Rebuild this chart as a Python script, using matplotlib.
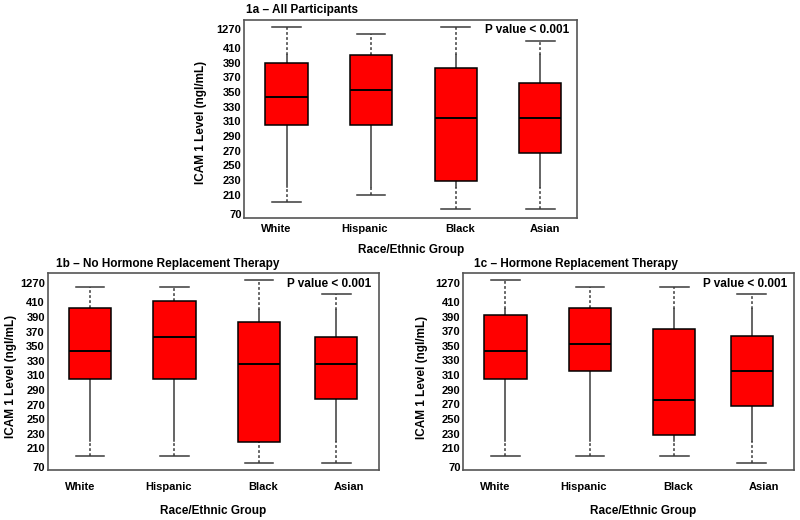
import numpy as np
import matplotlib
matplotlib.use("Agg")
import matplotlib.pyplot as plt

plt.rcParams['font.family'] = ['Liberation Sans', 'DejaVu Sans']
plt.rcParams['font.weight'] = 'bold'

# ---------------- data ----------------
groups = ["White", "Hispanic", "Black", "Asian"]
ytick_values = [70, 210, 230, 250, 270, 290, 310, 330, 350, 370, 390, 410, 1270]

titles = ["1a \u2013 All Participants",
          "1b \u2013 No Hormone Replacement Therapy",
          "1c \u2013 Hormone Replacement Therapy"]
p_text = "P value < 0.001"

# per panel: whisker low, Q1, median, Q3, whisker high (ng/mL)
a_low = [154, 205, 102, 102]
a_q1 = [305, 305, 228, 267]
a_med = [343, 352, 314, 314]
a_q3 = [390, 400, 382, 362]
a_high = [1356, 1038, 1369, 734]

b_low = [153, 153, 104, 104]
b_q1 = [305, 305, 219, 277]
b_med = [344, 363, 325, 325]
b_q3 = [402, 456, 383, 363]
b_high = [1091, 1091, 1422, 774]

c_low = [151, 151, 151, 100]
c_q1 = [305, 315, 228, 267]
c_med = [343, 353, 276, 315]
c_q3 = [392, 402, 373, 363]
c_high = [1409, 1078, 1078, 759]

# ---------------- broken-axis scale ----------------
XP = [0.0, 70.0, 210.0, 410.0, 1270.0, 2500.0]
FP = [-0.65, 0.0, 1.3, 11.3, 12.6, 12.6 + 1230.0 / 661.5]


def fwd(v):
    return np.interp(v, XP, FP)


def inv(s):
    return np.interp(s, FP, XP)


HI_BRK = 400
LO_BRK = 220
DASH = (0, (1.8, 1.5))

fig = plt.figure(figsize=(8, 5.2), dpi=100)

panels = [
    dict(rect=[0.3054, 0.5802, 0.4163, 0.3819], data=(a_low, a_q1, a_med, a_q3, a_high),
         pos=[0, 1, 2, 3], xlim=(-0.50, 3.44), slim=(-0.31, 13.22),
         tpos=(0.005, 1.049), ppos=(0.976, 0.948), ylab=(-0.113, 0.482), xlab=(0.5, -0.127),
         xpad=4.0),
    dict(rect=[0.0596, 0.0962, 0.4141, 0.3783], data=(b_low, b_q1, b_med, b_q3, b_high),
         pos=[0, 1, 2, 2.915], xlim=(-0.50, 3.42), slim=(-0.18, 13.29),
         tpos=(0.025, 1.046), ppos=(0.978, 0.944), ylab=(-0.094, 0.474), xlab=(0.5, -0.178),
         xpad=9.0),
    dict(rect=[0.5791, 0.0967, 0.41375, 0.3777], data=(c_low, c_q1, c_med, c_q3, c_high),
         pos=[0, 1, 2, 2.915], xlim=(-0.50, 3.42), slim=(-0.18, 13.27),
         tpos=(0.032, 1.046), ppos=(0.979, 0.9455), ylab=(-0.106, 0.469), xlab=(0.542, -0.18),
         xpad=9.0),
]

label_offsets = [-0.12, 0.925, 2.05, 3.06]
wcol = "#3a3a3a"

for i, p in enumerate(panels):
    ax = fig.add_axes(p["rect"])
    ax.set_yscale("function", functions=(fwd, inv))
    low, q1, med, q3, high = p["data"]
    stats = []
    for k in range(len(groups)):
        stats.append(dict(med=med[k], q1=q1[k], q3=q3[k], whislo=low[k], whishi=high[k],
                          fliers=[], label=groups[k]))
    ax.bxp(stats, positions=p["pos"], widths=0.5, showfliers=False, patch_artist=True,
           boxprops=dict(facecolor="#ff0000", edgecolor="black", linewidth=1.1),
           medianprops=dict(color="black", linewidth=1.4),
           whiskerprops=dict(linestyle="none"),
           capprops=dict(color=wcol, linewidth=1.1), capwidths=0.34, zorder=3)
    # whiskers: solid inside the continuous part, dashed across the axis breaks
    for k, x in enumerate(p["pos"]):
        top_solid = min(high[k], HI_BRK)
        if top_solid > q3[k]:
            ax.plot([x, x], [q3[k], top_solid], color=wcol, lw=1.1, zorder=2)
        if high[k] > HI_BRK:
            ax.plot([x, x], [max(q3[k], HI_BRK), high[k]], color=wcol, lw=1.1,
                    linestyle=DASH, zorder=2)
        bot_solid = max(low[k], LO_BRK)
        if bot_solid < q1[k]:
            ax.plot([x, x], [bot_solid, q1[k]], color=wcol, lw=1.1, zorder=2)
        if low[k] < LO_BRK:
            ax.plot([x, x], [low[k], min(q1[k], LO_BRK)], color=wcol, lw=1.1,
                    linestyle=DASH, zorder=2)

    ax.set_xlim(*p["xlim"])
    ax.set_ylim(inv(p["slim"][0]), inv(p["slim"][1]))
    ax.set_yticks(ytick_values)
    ax.set_yticklabels([str(v) for v in ytick_values])
    ax.yaxis.set_minor_locator(matplotlib.ticker.NullLocator())
    ax.set_xticks(label_offsets)
    ax.set_xticklabels(groups)
    ax.tick_params(axis="both", length=0, labelsize=8, colors="black")
    ax.tick_params(axis="y", pad=2)
    ax.tick_params(axis="x", pad=p["xpad"])
    for lab in ax.get_xticklabels() + ax.get_yticklabels():
        lab.set_fontweight("bold")
    for sp in ax.spines.values():
        sp.set_color("#555555")
        sp.set_linewidth(1.2)

    ax.set_ylabel("ICAM 1 Level (ngl/mL)", fontsize=8.5, fontweight="bold")
    ax.yaxis.set_label_coords(*p["ylab"])
    ax.set_xlabel("Race/Ethnic Group", fontsize=8.5, fontweight="bold")
    ax.xaxis.set_label_coords(*p["xlab"])
    ax.text(p["tpos"][0], p["tpos"][1], titles[i], transform=ax.transAxes,
            fontsize=8.5, fontweight="bold", ha="left", va="center")
    ax.text(p["ppos"][0], p["ppos"][1], p_text, transform=ax.transAxes,
            fontsize=8.5, fontweight="bold", ha="right", va="center")

fig.savefig("out.png", dpi=100)
